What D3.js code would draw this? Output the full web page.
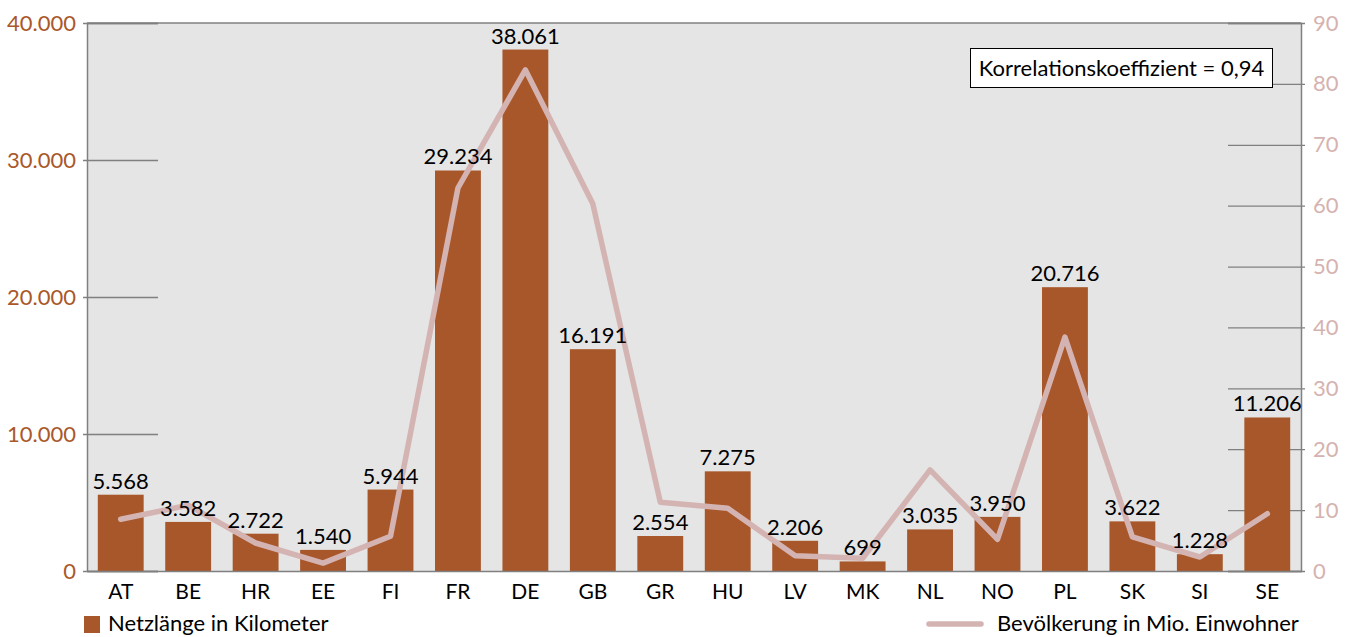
<!DOCTYPE html>
<html>
<head>
<meta charset="utf-8">
<script src="https://cdn.jsdelivr.net/npm/d3@7"></script>
<style>
  html, body { margin: 0; padding: 0; background: #fff; overflow: hidden; }
  svg { display: block; font-family: Lato, "Open Sans", sans-serif; }
</style>
</head>
<body>
<div id="chart"></div>
<script>
// Laender (ISO-Kuerzel)
const countries = ["AT", "BE", "HR", "EE", "FI", "FR", "DE", "GB", "GR", "HU", "LV", "MK", "NL", "NO", "PL", "SK", "SI", "SE"];
// Netzlaenge in Kilometer (Balken, linke Achse)
const netLength = [5568, 3582, 2722, 1540, 5944, 29234, 38061, 16191, 2554, 7275, 2206, 699, 3035, 3950, 20716, 3622, 1228, 11206];
// Bevoelkerung in Mio. Einwohner (Linie, rechte Achse)
const population = [8.5, 10.8, 4.6, 1.3, 5.7, 62.9, 82.3, 60.3, 11.3, 10.3, 2.5, 2.1, 16.6, 5.2, 38.4, 5.6, 2.3, 9.4];
const leftTicks = [0, 10000, 20000, 30000, 40000];
const rightTicks = [0, 10, 20, 30, 40, 50, 60, 70, 80, 90];
const legendLabels = ["Netzlänge in Kilometer", "Bevölkerung in Mio. Einwohner"];
const corrText = "Korrelationskoeffizient = 0,94";

const W = 1349, H = 637;
const plot = { left: 87, right: 1301, top: 23, bottom: 571 };

const barColor = "#a8572a";
const lineColor = "#d4b4b2";
const axisColor = "#808080";

const de = d3.formatLocale({ decimal: ",", thousands: ".", grouping: [3], currency: ["", " €"] });
const fmt = de.format(",d");

const svg = d3.select("#chart").append("svg")
  .attr("width", W)
  .attr("height", H);

const x = d3.scaleBand()
  .domain(countries)
  .range([plot.left, plot.right])
  .paddingInner(0.32)
  .paddingOuter(0.16);

const yL = d3.scaleLinear().domain([0, 40000]).range([plot.bottom, plot.top]);
const yR = d3.scaleLinear().domain([0, 90]).range([plot.bottom, plot.top]);

// plot background
svg.append("rect")
  .attr("x", plot.left)
  .attr("y", plot.top)
  .attr("width", plot.right - plot.left)
  .attr("height", plot.bottom - plot.top)
  .attr("fill", "#e5e5e5");

// top border
svg.append("line")
  .attr("x1", plot.left).attr("x2", plot.right)
  .attr("y1", plot.top).attr("y2", plot.top)
  .attr("stroke", axisColor).attr("stroke-width", 1.5);

// left axis, with short inner grid stubs
const leftAxis = svg.append("g")
  .attr("transform", "translate(" + plot.left + ",0)")
  .call(d3.axisLeft(yL).tickValues(leftTicks).tickSize(-71).tickPadding(11).tickFormat(fmt));
leftAxis.select(".domain").attr("stroke", axisColor).attr("stroke-width", 1.5);
leftAxis.selectAll(".tick line").attr("x1", -4).attr("stroke", axisColor).attr("stroke-width", 1.3);
leftAxis.selectAll(".tick text")
  .attr("fill", "#a9582b")
  .attr("font-size", 22)
  .attr("font-family", "Lato, sans-serif");

// right axis
const rightAxis = svg.append("g")
  .attr("transform", "translate(" + plot.right + ",0)")
  .call(d3.axisRight(yR).tickValues(rightTicks).tickSize(-73).tickPadding(12));
rightAxis.select(".domain").attr("stroke", axisColor).attr("stroke-width", 1.5);
rightAxis.selectAll(".tick line").attr("x1", 4).attr("stroke", axisColor).attr("stroke-width", 1.3);
rightAxis.selectAll(".tick text")
  .attr("fill", "#d5b3b0")
  .attr("font-size", 22)
  .attr("font-family", "Lato, sans-serif");

// bars
svg.append("g").selectAll("rect")
  .data(countries)
  .join("rect")
  .attr("x", d => x(d))
  .attr("width", x.bandwidth())
  .attr("y", (d, i) => yL(netLength[i]))
  .attr("height", (d, i) => plot.bottom - yL(netLength[i]))
  .attr("fill", barColor);

// bottom axis
const bottomAxis = svg.append("g")
  .attr("transform", "translate(0," + plot.bottom + ")")
  .call(d3.axisBottom(x).tickSize(0).tickPadding(13));
bottomAxis.select(".domain").attr("stroke", axisColor).attr("stroke-width", 1.5);
bottomAxis.selectAll(".tick text")
  .attr("fill", "#000")
  .attr("font-size", 21)
  .attr("font-family", "Lato, sans-serif");

// population line
const line = d3.line()
  .x((d, i) => x(countries[i]) + x.bandwidth() / 2)
  .y(d => yR(d));

svg.append("path")
  .datum(population)
  .attr("d", line)
  .attr("fill", "none")
  .attr("stroke", lineColor)
  .attr("stroke-width", 5.5)
  .attr("stroke-linejoin", "round")
  .attr("stroke-linecap", "round");

// value labels
svg.append("g").selectAll("text")
  .data(countries)
  .join("text")
  .attr("x", d => x(d) + x.bandwidth() / 2)
  .attr("y", (d, i) => yL(netLength[i]) - 6)
  .attr("text-anchor", "middle")
  .attr("font-size", 22)
  .attr("fill", "#000")
  .text((d, i) => fmt(netLength[i]));

// correlation box
const box = svg.append("g");
box.append("rect")
  .attr("x", 970.5).attr("y", 48.5)
  .attr("width", 302).attr("height", 39)
  .attr("fill", "#fff")
  .attr("stroke", "#000")
  .attr("stroke-width", 1);
box.append("text")
  .attr("x", 1121.5).attr("y", 76)
  .attr("text-anchor", "middle")
  .attr("font-size", 22)
  .attr("fill", "#000")
  .text(corrText);

// legend
const legend = svg.append("g");
legend.append("rect")
  .attr("x", 84).attr("y", 616)
  .attr("width", 16).attr("height", 17)
  .attr("fill", barColor);
legend.append("text")
  .attr("x", 108).attr("y", 631)
  .attr("font-size", 22)
  .attr("fill", "#000")
  .text(legendLabels[0]);
legend.append("line")
  .attr("x1", 929).attr("x2", 981)
  .attr("y1", 624).attr("y2", 624)
  .attr("stroke", lineColor)
  .attr("stroke-width", 5.5)
  .attr("stroke-linecap", "round");
legend.append("text")
  .attr("x", 997).attr("y", 631)
  .attr("font-size", 22)
  .attr("fill", "#000")
  .text(legendLabels[1]);
</script>
</body>
</html>
